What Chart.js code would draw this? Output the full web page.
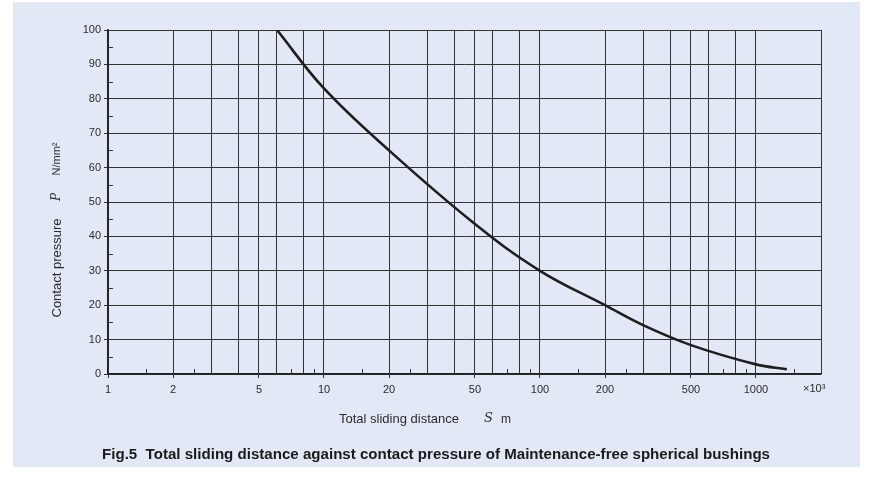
<!DOCTYPE html>
<html><head><meta charset="utf-8">
<script src="https://cdn.jsdelivr.net/npm/chart.js@4.4.1/dist/chart.umd.min.js"></script>
<style>html,body{margin:0;padding:0;background:#fff}canvas{display:block}</style>
</head><body>
<canvas id="c" width="873" height="478"></canvas>
<script>
// Data
const distance = [6.06, 10, 20, 50, 100, 200, 300, 500, 1000, 1390];
const pressure = [100, 83, 65, 43.6, 30, 20, 14.2, 8.4, 2.8, 1.4];

// Axis ticks
const xGridValues = [1,2,3,4,5,6,8,10,20,30,40,50,60,80,100,200,300,400,500,600,800,1000,2000];
const xLabelValues = [1,2,5,10,20,50,100,200,500,1000];
const xMinorTicks = [1.5,2.5,7,9,15,25,70,90,150,250,700,900,1500];
const yMinorTicks = [5,15,25,35,45,55,65,75,85,95];

// Texts
const yTitleMain = 'Contact pressure';
const yTitleSym = 'P';
const yTitleUnit = 'N/mm\u00b2';
const xTitleMain = 'Total sliding distance';
const xTitleSym = 'S';
const xTitleUnit = 'm';
const xMultiplier = '\u00d710\u00b3';
const caption = 'Fig.5  Total sliding distance against contact pressure of Maintenance-free spherical bushings';

const INK = '#2b2b2b';
const GRID = '#333333';
const FONT = '"Liberation Sans", Arial, sans-serif';

const decor = {
  id: 'decor',
  beforeDraw(chart) {
    const c = chart.ctx;
    c.save();
    c.fillStyle = '#ffffff';
    c.fillRect(0, 0, chart.width, chart.height);
    c.fillStyle = '#e2e8f5';
    c.fillRect(13, 2, 847, 465);
    c.restore();
  },
  afterDraw(chart) {
    const c = chart.ctx;
    const xs = chart.scales.x, ys = chart.scales.y;
    const a = chart.chartArea;
    c.save();
    c.strokeStyle = GRID;
    c.lineWidth = 1;
    // minor x ticks (inside)
    xMinorTicks.forEach(v => {
      const px = Math.round(xs.getPixelForValue(v)) + 0.5;
      c.beginPath(); c.moveTo(px, a.bottom); c.lineTo(px, a.bottom - 5); c.stroke();
    });
    // minor y ticks (inside)
    yMinorTicks.forEach(v => {
      const py = Math.round(ys.getPixelForValue(v)) + 0.5;
      c.beginPath(); c.moveTo(a.left, py); c.lineTo(a.left + 5, py); c.stroke();
    });
    c.fillStyle = INK;
    c.textBaseline = 'middle';
    // x title
    c.textAlign = 'left';
    c.font = '13px ' + FONT;
    c.fillText(xTitleMain, a.left + 231, 419);
    c.font = 'italic 13px "DejaVu Serif", serif';
    c.fillText(xTitleSym, a.left + 376, 419);
    c.font = '12px ' + FONT;
    c.fillText(xTitleUnit, a.left + 393, 420);
    // multiplier
    c.font = '11px ' + FONT;
    c.fillText(xMultiplier, a.right - 18, 389);
    // y title (rotated)
    c.save();
    c.translate(57, 0);
    c.rotate(-Math.PI / 2);
    c.textAlign = 'center';
    c.font = '13px ' + FONT;
    c.fillText(yTitleMain, -268, 0);
    c.font = 'italic 12px "DejaVu Serif", serif';
    c.fillText(yTitleSym, -197, 0);
    c.font = '11px ' + FONT;
    c.fillText(yTitleUnit, -159, 0);
    c.restore();
    // caption
    c.font = 'bold 14px ' + FONT;
    const w = c.measureText(caption).width;
    const target = 668;
    c.save();
    c.translate(436, 455);
    c.scale(target / w, 1.05);
    c.textAlign = 'center';
    c.fillStyle = '#1a1a1a';
    c.fillText(caption, 0, 0);
    c.restore();
    c.restore();
  }
};

new Chart(document.getElementById('c'), {
  type: 'line',
  data: {
    datasets: [{
      data: distance.map((d, i) => ({ x: d, y: pressure[i] })),
      borderColor: '#1e1e1e',
      borderWidth: 2.6,
      pointRadius: 0,
      fill: false,
      tension: 0.4
    }]
  },
  options: {
    responsive: false,
    devicePixelRatio: 1,
    animation: false,
    events: [],
    layout: { padding: { left: 0, right: 52, top: 30, bottom: 0 } },
    plugins: { legend: { display: false }, tooltip: { enabled: false }, title: { display: false } },
    scales: {
      x: {
        type: 'logarithmic',
        min: 1, max: 2000,
        afterBuildTicks(scale) { scale.ticks = xGridValues.map(v => ({ value: v })); },
        afterFit(scale) { scale.height = 104; },
        ticks: {
          autoSkip: false, maxRotation: 0, minRotation: 0, padding: 5,
          color: INK, font: { family: FONT, size: 11 },
          callback: (v) => xLabelValues.includes(v) ? String(v) : ''
        },
        grid: {
          color: GRID, lineWidth: 1, tickLength: 4,
          tickColor: (ctx) => (ctx.tick && xLabelValues.includes(ctx.tick.value)) ? GRID : 'rgba(0,0,0,0)'
        },
        border: { display: true, color: '#222', width: 1.5 }
      },
      y: {
        type: 'linear',
        min: 0, max: 100,
        afterFit(scale) { scale.width = 108; },
        ticks: { stepSize: 10, padding: 3, color: INK, font: { family: FONT, size: 11 } },
        grid: { color: GRID, lineWidth: 1, tickLength: 4, tickColor: GRID },
        border: { display: true, color: '#222', width: 1.5 }
      }
    }
  },
  plugins: [decor]
});
</script>
</body></html>
